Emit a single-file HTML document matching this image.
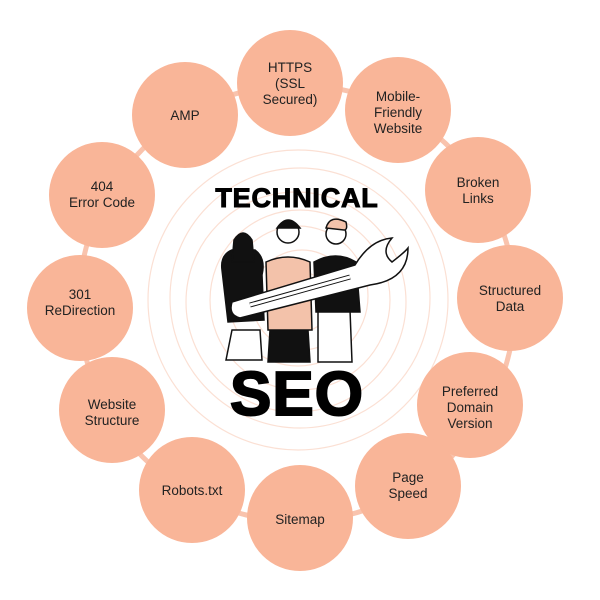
<!DOCTYPE html>
<html><head><meta charset="utf-8"><style>
html,body{margin:0;padding:0;background:#fff;}
svg{display:block}
text{font-family:"Liberation Sans",sans-serif;}
</style></head><body>
<svg width="600" height="600" viewBox="0 0 600 600">
<g fill="none" stroke="#fbe0d4" stroke-width="1.2">
<circle cx="298" cy="300" r="150"/><circle cx="300" cy="298" r="130"/><circle cx="296" cy="302" r="110"/>
<circle cx="300" cy="300" r="90"/><circle cx="298" cy="296" r="70"/><circle cx="302" cy="300" r="50"/><circle cx="300" cy="302" r="30"/>
</g>
<circle cx="297" cy="303" r="218" fill="none" stroke="#f9c3ad" stroke-width="5"/>
<g fill="#f9b598">
<circle cx="290" cy="83" r="53"/>
<circle cx="398" cy="110" r="53"/>
<circle cx="478" cy="190" r="53"/>
<circle cx="510" cy="298" r="53"/>
<circle cx="470" cy="405" r="53"/>
<circle cx="408" cy="486" r="53"/>
<circle cx="300" cy="518" r="53"/>
<circle cx="192" cy="490" r="53"/>
<circle cx="112" cy="410" r="53"/>
<circle cx="80" cy="308" r="53"/>
<circle cx="102" cy="195" r="53"/>
<circle cx="185" cy="115" r="53"/>
</g>
<g font-size="13.5" fill="#222" text-anchor="middle">
<text x="290" y="72">HTTPS</text><text x="290" y="88">(SSL</text><text x="290" y="104">Secured)</text>
<text x="398" y="101">Mobile-</text><text x="398" y="117">Friendly</text><text x="398" y="133">Website</text>
<text x="478" y="187">Broken</text><text x="478" y="203">Links</text>
<text x="510" y="295">Structured</text><text x="510" y="311">Data</text>
<text x="470" y="396">Preferred</text><text x="470" y="412">Domain</text><text x="470" y="428">Version</text>
<text x="408" y="482">Page</text><text x="408" y="498">Speed</text>
<text x="300" y="524">Sitemap</text>
<text x="192" y="495">Robots.txt</text>
<text x="112" y="409">Website</text><text x="112" y="425">Structure</text>
<text x="80" y="299">301</text><text x="80" y="315">ReDirection</text>
<text x="102" y="191">404</text><text x="102" y="207">Error Code</text>
<text x="185" y="120">AMP</text>
</g>
<text x="297" y="207" font-size="27" font-weight="900" text-anchor="middle" fill="#000" stroke="#000" stroke-width="1" style="letter-spacing:0.8px">TECHNICAL</text>
<g stroke="#111" stroke-width="1.5">
<path d="M232 330 L226 360 L262 360 L260 330 Z" fill="#fff"/>
<path d="M222 270 Q220 255 232 250 L255 250 Q266 258 262 275 L264 320 L228 322 Z" fill="#111"/>
<circle cx="243" cy="245" r="9" fill="#fff"/>
<path d="M234 240 Q243 226 252 240 L254 262 L232 262 Z" fill="#111"/>
<path d="M270 330 L268 362 L310 362 L308 330 Z" fill="#111"/>
<path d="M266 262 Q288 252 310 262 L312 330 L268 330 Z" fill="#f3c2aa"/>
<circle cx="288" cy="232" r="11" fill="#fff"/>
<path d="M277 228 Q288 212 300 228 Z" fill="#111"/>
<path d="M318 310 L318 362 L352 362 L350 310 Z" fill="#fff"/>
<path d="M314 262 Q336 250 356 262 L360 312 L316 312 Z" fill="#111"/>
<circle cx="336" cy="234" r="10" fill="#fff"/>
<path d="M326 228 Q330 214 346 222 Q348 230 344 230 Z" fill="#f3c2aa"/>
<path d="M232 302 L355 265 Q370 240 392 238 Q380 252 392 262 Q405 252 408 248 Q408 280 370 285 L240 318 Q228 315 232 302 Z" fill="#fff"/>
<path d="M250 305 L350 277" stroke-width="5" stroke="#111" fill="none"/>
<path d="M250 305 L350 277" stroke-width="3" stroke="#fff" fill="none"/>
</g>
<text x="297" y="415" font-size="62" font-weight="900" text-anchor="middle" fill="#000" stroke="#000" stroke-width="2" style="letter-spacing:1px">SEO</text>
</svg>
</body></html>
